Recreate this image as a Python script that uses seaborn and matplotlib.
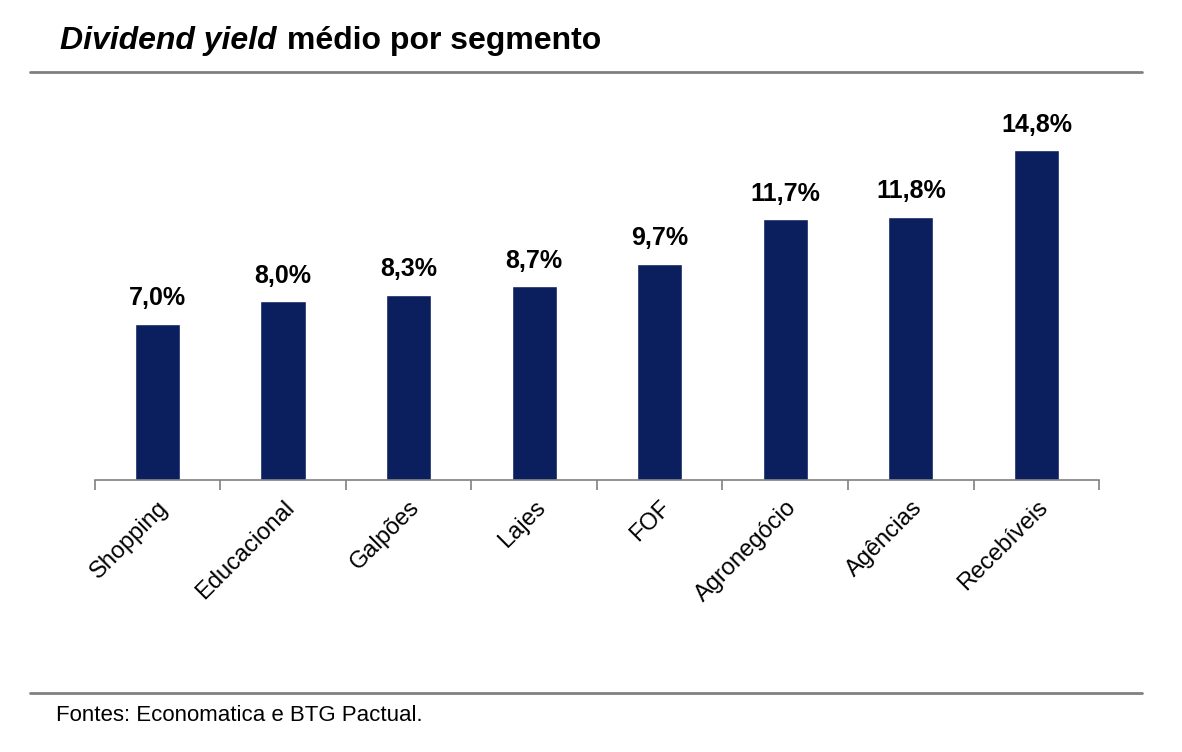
import numpy as np
import matplotlib
matplotlib.use('Agg')
import matplotlib.pyplot as plt
import seaborn as sns

sns.set_style('white')
plt.rcParams['font.family'] = ['Liberation Sans', 'DejaVu Sans']
plt.rcParams['text.color'] = 'black'
plt.rcParams['xtick.color'] = 'black'

segmentos = ['Shopping', 'Educacional', 'Galpões', 'Lajes', 'FOF',
             'Agronegócio', 'Agências', 'Recebíveis']
dy = [7.0, 8.0, 8.3, 8.7, 9.7, 11.7, 11.8, 14.8]
rotulos = ['7,0%', '8,0%', '8,3%', '8,7%', '9,7%', '11,7%', '11,8%', '14,8%']

fig = plt.figure(figsize=(11.82, 7.52), dpi=100)
ax = fig.add_axes([0.080, 0.362, 0.850, 0.489])

sns.barplot(x=segmentos, y=dy, color='#0B1F5E', width=0.36, saturation=1, ax=ax)

for i, (v, t) in enumerate(zip(dy, rotulos)):
    ax.text(i, v + 0.6, t, ha='center', va='bottom', fontsize=18, fontweight='bold')

ax.set_xlim(-0.5, 7.5)
ax.set_ylim(0, 16.5)
ax.set_yticks([])
for s in ['top', 'right', 'left']:
    ax.spines[s].set_visible(False)
ax.spines['bottom'].set_color('#808080')
ax.spines['bottom'].set_linewidth(1.2)
ax.set_xticks(np.arange(len(segmentos)))
ax.set_xticklabels(segmentos, rotation=45, ha='right', rotation_mode='anchor', fontsize=17)
ax.tick_params(axis='x', which='major', length=0, pad=12)
ax.set_xticks(np.arange(-0.5, 8, 1), minor=True)
ax.tick_params(axis='x', which='minor', bottom=True, length=7, color='#808080', width=1.2)

fig.text(0.051, 0.945, 'Dividend yield', fontsize=23, fontweight='bold', style='italic', va='center')
fig.text(0.243, 0.945, 'médio por segmento', fontsize=23, fontweight='bold', va='center')
fig.add_artist(plt.Line2D([0.025, 0.966], [0.904, 0.904], color='#808080', lw=2))
fig.add_artist(plt.Line2D([0.025, 0.966], [0.078, 0.078], color='#808080', lw=2))
fig.text(0.047, 0.048, 'Fontes: Economatica e BTG Pactual.', fontsize=16, va='center')

plt.savefig('out.png', dpi=100)
